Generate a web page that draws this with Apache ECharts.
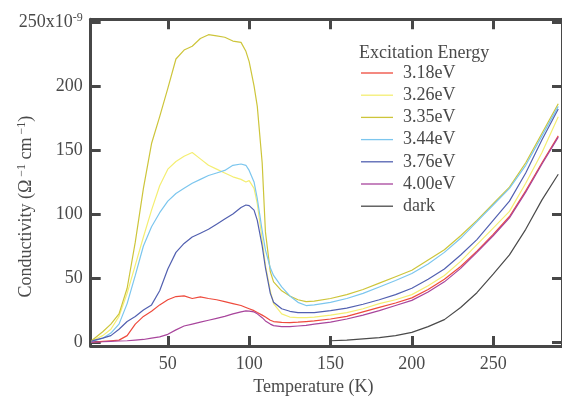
<!DOCTYPE html>
<html>
<head>
<meta charset="utf-8">
<script src="https://cdn.jsdelivr.net/npm/echarts@6/dist/echarts.min.js"></script>
<style>
    html, body { margin: 0; padding: 0; background: #fff; }
    #chart { width: 562px; height: 401px; }
</style>
</head>
<body>
<div id="chart"></div>
<script>
// temperature grid (K), shared by all series
var temps = [3, 5, 10, 15, 20, 25, 30, 35, 40, 45,
    50, 55, 60, 65, 70, 75, 80, 85, 90, 95,
    98, 100, 103, 105, 108, 110, 113, 115, 120, 125,
    130, 135, 140, 150, 160, 170, 180, 190, 200, 210,
    220, 230, 240, 250, 260, 270, 280, 290];

// conductivity, units of 1e-9 (Ohm cm)^-1
var e318 = [0, 0, 0.5, 1, 1.5, 5, 14, 20, 24, 29,
    33, 35.5, 36, 34, 35.2, 34, 33, 31.5, 30, 28.5,
    27, 26, 24.5, 23, 21, 19.5, 17, 16, 15.3, 15.2,
    15.5, 16, 16.5, 18, 20, 23.5, 27, 30.5, 34.5, 41,
    49, 59, 71, 84, 98, 118, 140, 161];
var e326 = [0, 2, 5, 10, 20, 38, 60, 82, 103, 122,
    135, 141, 145, 148, 143, 138, 135, 132, 129, 127,
    125, 126, 120, 108, 80, 60, 40, 30, 22, 19.5,
    19, 19, 19.5, 21, 23, 26, 30, 33, 37, 44,
    52, 63, 76, 89, 102, 124, 148, 176];
var e335 = [1, 3, 8, 14, 22, 42, 78, 120, 155, 176,
    198, 221, 228, 231, 237, 240, 239, 238, 235, 234,
    227, 219, 200, 184, 140, 86, 55, 47, 40, 36,
    33, 31.5, 32, 34, 37, 41, 46, 51, 56, 64,
    72, 83, 95, 108, 121, 140, 163, 186];
var e344 = [0, 1, 3, 7, 14, 30, 52, 75, 90, 101,
    110, 116, 120, 124, 127, 130, 132, 134, 138, 139,
    138, 134, 125, 112, 87, 72, 58, 52, 43, 36,
    31, 28.5, 29, 31, 34, 38, 43, 48, 53.5, 61,
    70, 81, 94, 107, 120, 138, 161, 184];
var e376 = [0.5, 1.5, 3, 5, 10, 16, 20, 25, 29, 40,
    57, 70, 77, 82, 85, 88, 92, 96, 100, 105,
    107, 106.5, 103, 95, 75, 58, 38, 31, 26, 24,
    23, 23, 23, 24.5, 26.5, 29.5, 33, 37, 42, 49,
    57, 68, 80, 95, 110, 132, 158, 182];
var e400 = [0, 0, 0.2, 0.5, 0.8, 1, 1.5, 2, 3, 4,
    6, 9.5, 12.5, 14, 15.5, 17, 18.5, 20, 22, 23.5,
    24.3, 24.2, 23.5, 22, 19, 16.5, 14, 12.8, 12, 12,
    12.5, 13, 14, 15.5, 18, 21, 24.5, 28.5, 32.5, 39,
    47, 57.5, 70, 83, 97, 117, 139, 160];
var dark = [null, null, null, null, null, null, null, null, null, null,
    null, null, null, null, null, null, null, null, null, null,
    null, null, null, null, null, null, null, null, null, null,
    null, null, null, 1, 1.5, 2.5, 3.5, 5, 7.5, 12,
    17.5, 27, 38.5, 53, 68, 88, 111, 131];

var seriesNames = ['3.18eV', '3.26eV', '3.35eV', '3.44eV', '3.76eV', '4.00eV', 'dark'];
var seriesValues = [e318, e326, e335, e344, e376, e400, dark];
var seriesColors = ['#ee4a3c', '#f4ee72', '#cdc53a', '#7cc6ee', '#5260b0', '#a8459c', '#4a4a4a'];

var xTicks = [50, 100, 150, 200, 250];
var yTicks = [0, 50, 100, 150, 200, 250];

var font = 'Liberation Serif';
var textColor = '#4a4a4a';
var axisColor = '#474747';

function toPairs(vals) {
    return temps.map(function (t, i) { return [t, vals[i]]; })
        .filter(function (p) { return p[1] !== null; });
}

var series = seriesNames.map(function (name, i) {
    return {
        name: name,
        type: 'line',
        symbol: 'none',
        smooth: false,
        color: seriesColors[i],
        lineStyle: { width: 1.2, color: seriesColors[i] },
        data: toPairs(seriesValues[i])
    };
});

function axisBase(ticks) {
    return {
        type: 'value',
        axisLine: { show: true, onZero: false, lineStyle: { color: axisColor, width: 3 } },
        axisTick: { show: true, inside: true, length: 10, customValues: ticks, lineStyle: { color: axisColor, width: 3 } },
        splitLine: { show: false }
    };
}

var xBottom = axisBase(xTicks);
xBottom.min = 2.6;
xBottom.max = 292.3;
xBottom.position = 'bottom';
xBottom.axisLabel = { customValues: xTicks, margin: 9, fontFamily: font, fontSize: 18, color: textColor };
xBottom.name = 'Temperature (K)';
xBottom.nameLocation = 'middle';
xBottom.nameGap = 32;
xBottom.nameTextStyle = { fontFamily: font, fontSize: 18, color: textColor, padding: [0, 26, 0, 0] };

var xTop = axisBase(xTicks);
xTop.min = 2.6;
xTop.max = 292.3;
xTop.position = 'top';
xTop.axisLabel = { show: false };

var yLeft = axisBase(yTicks);
yLeft.min = -3.1;
yLeft.max = 252;
yLeft.position = 'left';
yLeft.axisLabel = {
    customValues: yTicks,
    margin: 8,
    fontFamily: font,
    fontSize: 18,
    color: textColor,
    formatter: function (v) {
        return v === 250 ? '250x10{s|-9}' : String(v);
    },
    rich: {
        s: { fontFamily: font, fontSize: 12, color: textColor, padding: [0, 0, 9, 0] }
    }
};
yLeft.name = 'Conductivity (Ω{s| −1} cm{s| −1})';
yLeft.nameLocation = 'middle';
yLeft.nameGap = 54;
yLeft.nameMoveOverlap = false;
yLeft.nameTextStyle = {
    fontFamily: font,
    fontSize: 18,
    color: textColor,
    padding: [0, 48, 0, 0],
    rich: {
        s: { fontFamily: font, fontSize: 12, color: textColor, padding: [0, 0, 9, 0] }
    }
};

var yRight = axisBase(yTicks);
yRight.min = -3.1;
yRight.max = 252;
yRight.position = 'right';
yRight.axisLabel = { show: false };

var chart = echarts.init(document.getElementById('chart'));
chart.setOption({
    animation: false,
    backgroundColor: '#fff',
    title: {
        text: 'Excitation Energy',
        left: 359,
        top: 42,
        padding: 0,
        textStyle: { fontFamily: font, fontSize: 18, fontWeight: 'normal', color: textColor, lineHeight: 22 }
    },
    legend: {
        orient: 'vertical',
        left: 361,
        top: 62,
        padding: 0,
        icon: 'rect',
        itemWidth: 32,
        itemHeight: 1.3,
        itemGap: 0.2,
        data: seriesNames,
        textStyle: { fontFamily: font, fontSize: 18, color: textColor, lineHeight: 22, padding: [0, 0, 0, 5] }
    },
    grid: { left: 90.7, top: 19.3, width: 472.3, height: 329.4, containLabel: false },
    xAxis: [xBottom, xTop],
    yAxis: [yLeft, yRight],
    series: series
});
</script>
</body>
</html>
